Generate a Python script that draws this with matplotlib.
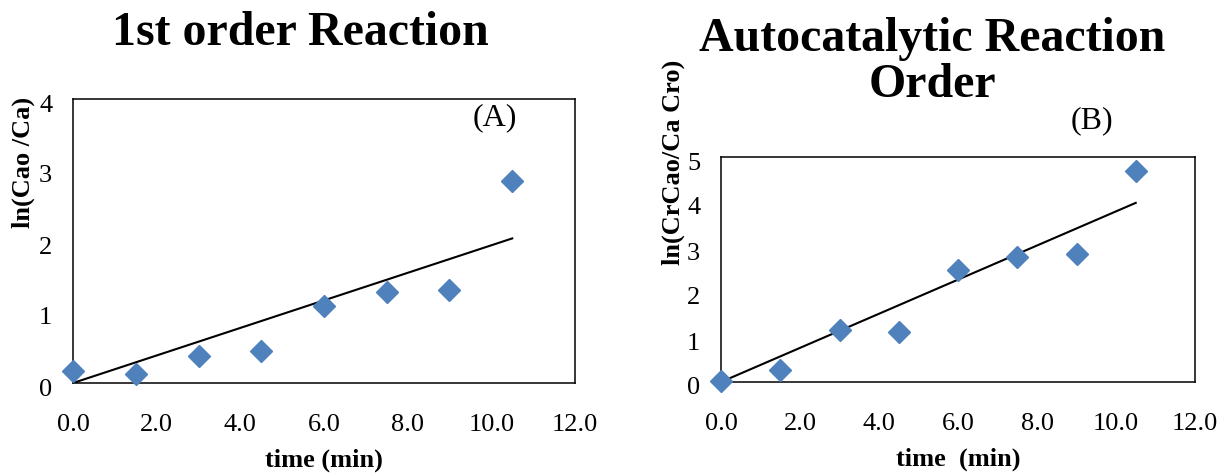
import numpy as np
import matplotlib
matplotlib.use('Agg')
import matplotlib.pyplot as plt
from matplotlib.transforms import ScaledTranslation

time_min = [0.0, 1.5, 3.0, 4.5, 6.0, 7.5, 9.0, 10.5]
ln_first = [0.17, 0.12, 0.38, 0.45, 1.09, 1.28, 1.31, 2.84]
ln_auto = [0.02, 0.27, 1.15, 1.11, 2.49, 2.78, 2.85, 4.68]

x_ticks = [0, 2, 4, 6, 8, 10, 12]
y_ticks_a = [0, 1, 2, 3, 4]
y_ticks_b = [0, 1, 2, 3, 4, 5]

plt.rcParams['font.family'] = ['Liberation Serif', 'DejaVu Serif']
blue = '#4F81BD'

W, H = 1229, 476
fig = plt.figure(figsize=(W / 100, H / 100), dpi=100)


def fit_origin(x, y):
    # excel trendline with intercept set to 0
    x = np.asarray(x)
    y = np.asarray(y)
    return np.sum(x * y) / np.sum(x * x)


def make_panel(box, y, yt, tag, tag_xy):
    l, t, r, b = box
    ax = fig.add_axes([l / W, 1 - b / H, (r - l) / W, (b - t) / H])
    k = fit_origin(time_min, y)
    xs = np.array([time_min[0], time_min[-1]])
    ax.plot(xs, k * xs, color='black', lw=1.5, zorder=2)
    ax.plot(time_min, y, 'D', color=blue, markersize=11, ls='none',
            clip_on=False, zorder=3)
    ax.set_xlim(0, 12)
    ax.set_ylim(yt[0], yt[-1])
    ax.set_xticks(x_ticks)
    ax.set_xticklabels(['%.1f' % v for v in x_ticks])
    ax.set_yticks(yt)
    ax.tick_params(axis='both', length=0, labelsize=19)
    ax.tick_params(axis='x', pad=22.5)
    ax.tick_params(axis='y', pad=15)
    # y labels sit a little below their value in the original
    shift = ScaledTranslation(0, -4 / 100, fig.dpi_scale_trans)
    for lab in ax.get_yticklabels():
        lab.set_transform(lab.get_transform() + shift)
    for s in ax.spines.values():
        s.set_linewidth(1.1)
        s.set_color('black')
    fig.text(tag_xy[0] / W, 1 - tag_xy[1] / H, tag, fontsize=23,
             ha='center', va='center')
    return ax


ax1 = make_panel((73, 99, 575, 383), ln_first, y_ticks_a, '(A)', (495, 118))
ax1.set_xlabel('time (min)', fontsize=19, fontweight='bold', labelpad=9)
fig.text(23 / W, 1 - 162 / H, 'ln(Cao /Ca)', rotation=90, fontsize=19,
         fontweight='bold', ha='center', va='center')
fig.text(300 / W, 1 - 33 / H, '1st order Reaction', fontsize=34.5,
         fontweight='bold', ha='center', va='center')

ax2 = make_panel((721, 157, 1195, 382), ln_auto, y_ticks_b, '(B)', (1092, 121))
ax2.set_xlabel('time  (min)', fontsize=19, fontweight='bold', labelpad=9)
fig.text(673 / W, 1 - 162 / H, 'ln(CrCao/Ca Cro)', rotation=90, fontsize=19,
         fontweight='bold', ha='center', va='center')
fig.text(932 / W, 1 - 62 / H, 'Autocatalytic Reaction\nOrder', fontsize=34.5,
         fontweight='bold', ha='center', va='center', linespacing=1.08)

fig.savefig('out.png', dpi=100)
